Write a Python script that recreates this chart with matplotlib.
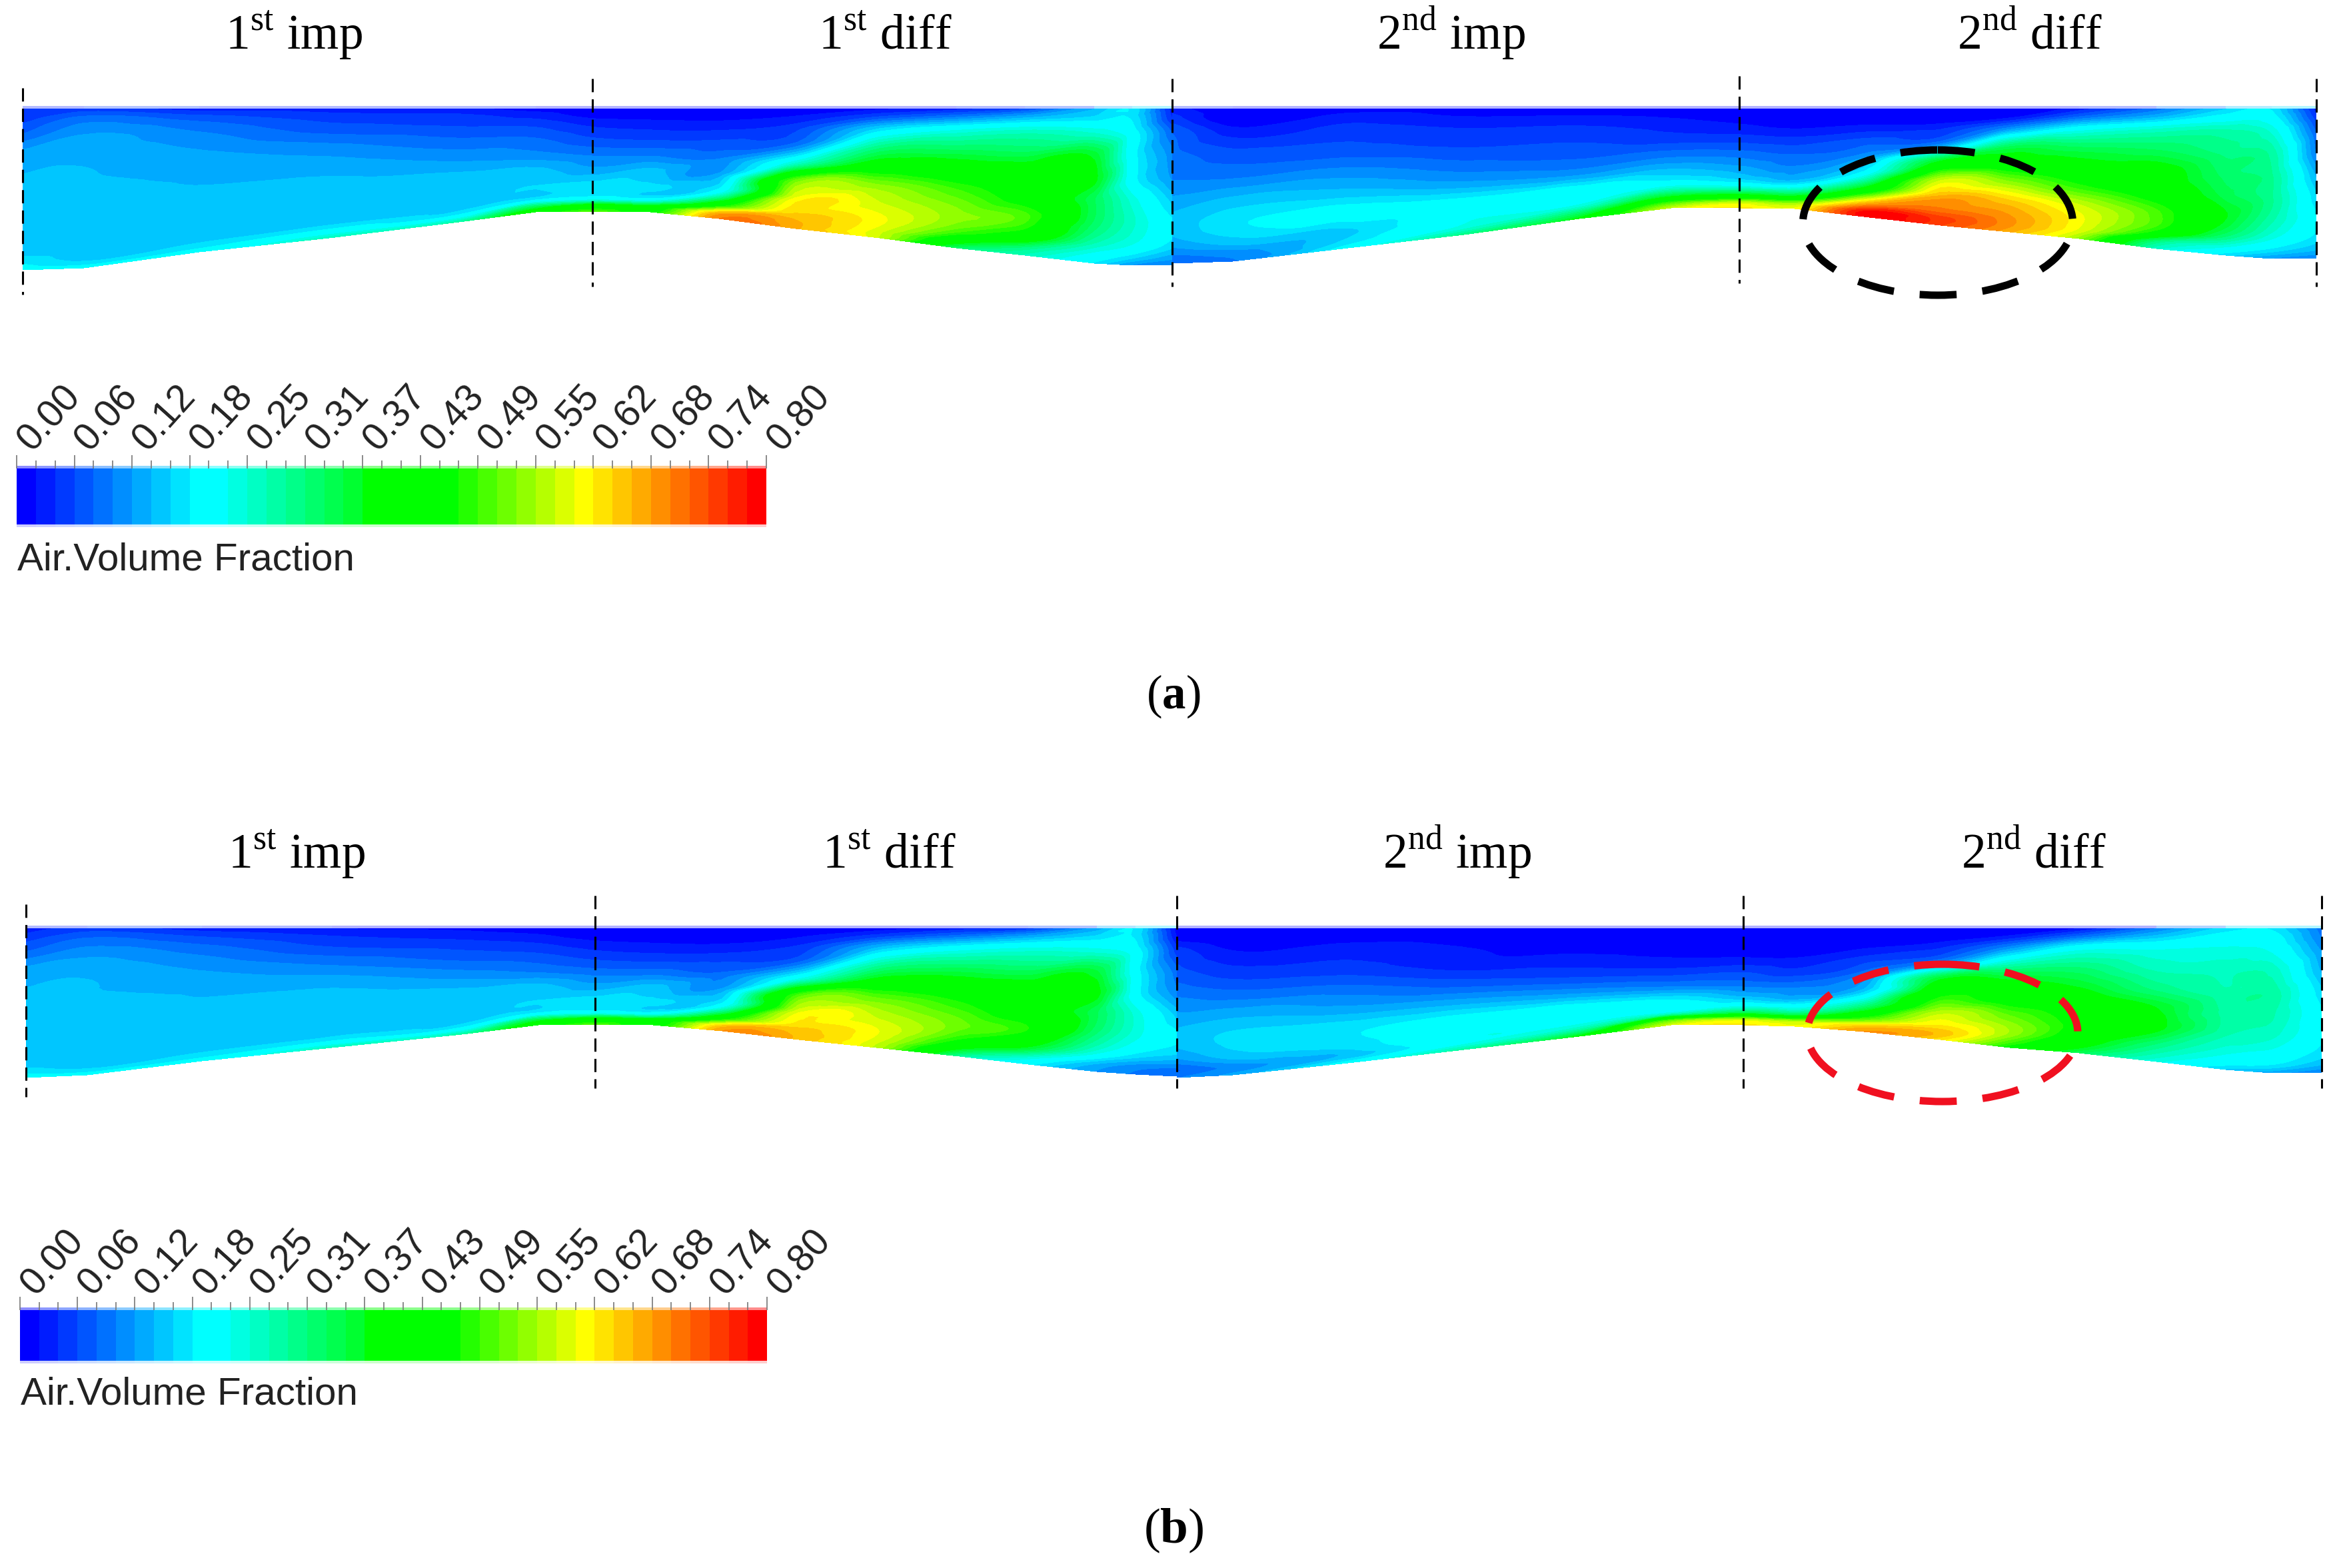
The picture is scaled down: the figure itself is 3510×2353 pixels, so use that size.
import numpy as np
import matplotlib
matplotlib.use('Agg')
import matplotlib.pyplot as plt
import matplotlib.tri as mtri
from matplotlib.colors import LinearSegmentedColormap, ListedColormap
from matplotlib.patches import Ellipse

plt.rcParams['font.family'] = ['Liberation Serif', 'DejaVu Sans']
plt.rcParams['mathtext.fontset'] = 'custom'
plt.rcParams['mathtext.rm'] = 'Liberation Serif'
plt.rcParams['mathtext.bf'] = 'Liberation Serif:bold'

# colour scale
tick_labels = ['0.00', '0.06', '0.12', '0.18', '0.25', '0.31', '0.37',
               '0.43', '0.49', '0.55', '0.62', '0.68', '0.74', '0.80']
scale_anchors = [(0.0, '#0000ff'), (9/38, '#00ffff'), (10/38, '#00ffff'), (17/38, '#00ff30'),
                 (18/38, '#00ff00'), (22/38, '#00ff00'), (29/38, '#ffff00'), (38/38, '#ff0000')]
n_bands = 39

# relative depth of the rows, 0 at top wall and 1 at bottom wall
depth_rows = [0, .06, .15, .3, .45, .6, .75, .88, .95, 1.0]

# panel a, first stage
a1_x = [34, 126, 299, 494, 689, 804, 889, 976, 1079, 1194, 1320, 1435, 1538, 1642, 1699, 1759]
a1_wall = [405, 402, 378, 357, 333, 318, 317, 318, 328, 343, 357, 372, 383, 395, 398, 398]
a1_field = [
    [.04, .05, .08, .135, .145, .145, .145, .15, .18, .2],
    [.05, .09, .12, .14, .145, .145, .145, .15, .16, .2],
    [.03, .07, .1, .125, .14, .145, .145, .15, .17, .2],
    [.03, .05, .07, .11, .135, .15, .15, .155, .2, .26],
    [.025, .045, .06, .09, .12, .15, .155, .155, .2, .28],
    [.01, .03, .055, .085, .11, .15, .165, .18, .33, .42],
    [.005, .012, .035, .065, .1, .13, .175, .21, .42, .5],
    [.005, .01, .03, .06, .1, .15, .17, .2, .4, .45],
    [.005, .01, .03, .065, .1, .13, .2, .45, .66, .7],
    [.01, .02, .05, .09, .24, .52, .6, .64, .66, .66],
    [.015, .06, .16, .3, .42, .54, .58, .6, .58, .57],
    [.03, .1, .22, .33, .42, .5, .54, .5, .4, .32],
    [.06, .14, .25, .33, .41, .44, .5, .42, .3, .26],
    [.14, .17, .24, .36, .38, .33, .32, .26, .21, .18],
    [.18, .18, .2, .2, .2, .24, .25, .22, .17, .12],
    [.03, .04, .08, .11, .12, .16, .19, .17, .13, .11],
]

# panel a, second stage
a2_x = [1759, 1850, 2023, 2197, 2370, 2508, 2610, 2693, 2797, 2912, 3016, 3120, 3236, 3340, 3409, 3476]
a2_wall = [395, 392, 372, 352, 328, 312, 312, 313, 325, 338, 348, 358, 373, 383, 388, 388]
a2_field = [
    [.03, .05, .08, .09, .1, .13, .15, .13, .1, .09],
    [.0, .0, .03, .07, .1, .15, .18, .15, .11, .1],
    [.01, .03, .05, .07, .11, .15, .2, .16, .17, .2],
    [.01, .02, .04, .06, .09, .13, .2, .22, .24, .3],
    [.01, .02, .04, .06, .08, .12, .21, .23, .32, .38],
    [.01, .015, .03, .05, .09, .14, .2, .36, .5, .57],
    [.0, .005, .02, .05, .09, .13, .19, .4, .58, .62],
    [.0, .0, .01, .045, .08, .11, .17, .38, .55, .6],
    [.0, .0, .02, .07, .12, .2, .4, .66, .78, .79],
    [.0, .0, .03, .1, .37, .56, .66, .71, .75, .74],
    [.0, .01, .1, .32, .42, .54, .64, .68, .68, .66],
    [.03, .08, .2, .33, .4, .48, .58, .6, .58, .54],
    [.09, .14, .25, .33, .4, .43, .5, .46, .3, .25],
    [.16, .2, .27, .3, .32, .34, .37, .3, .22, .17],
    [.18, .2, .24, .28, .29, .29, .27, .22, .17, .12],
    [.03, .05, .08, .1, .14, .17, .19, .17, .14, .1],
]

# panel b, first stage
b1_x = [39, 131, 303, 498, 693, 808, 893, 980, 1084, 1199, 1325, 1440, 1543, 1646, 1704, 1766]
b1_wall = [1617, 1613, 1592, 1572, 1552, 1538, 1537, 1538, 1547, 1560, 1573, 1585, 1597, 1608, 1612, 1615]
b1_field = [
    [.03, .05, .08, .135, .145, .145, .145, .15, .17, .2],
    [.05, .08, .11, .14, .145, .145, .145, .15, .16, .2],
    [.03, .06, .09, .12, .14, .145, .145, .15, .17, .2],
    [.02, .04, .06, .1, .135, .155, .15, .155, .19, .26],
    [.015, .03, .05, .08, .115, .15, .155, .155, .2, .28],
    [.005, .02, .04, .07, .1, .15, .165, .19, .35, .42],
    [.0, .005, .025, .055, .09, .13, .175, .21, .42, .5],
    [.0, .005, .02, .05, .09, .15, .17, .2, .4, .44],
    [.0, .005, .02, .055, .09, .13, .2, .45, .64, .68],
    [.005, .015, .04, .08, .22, .5, .59, .63, .65, .65],
    [.01, .05, .14, .28, .41, .52, .57, .59, .57, .55],
    [.03, .09, .2, .32, .41, .48, .52, .46, .36, .28],
    [.05, .13, .23, .32, .4, .42, .47, .36, .24, .19],
    [.13, .17, .23, .35, .38, .33, .3, .22, .14, .12],
    [.18, .18, .2, .2, .2, .24, .23, .17, .11, .1],
    [.01, .02, .05, .09, .11, .16, .19, .15, .1, .1],
]

# panel b, second stage
b2_x = [1766, 1850, 2023, 2197, 2370, 2508, 2616, 2693, 2797, 2912, 3016, 3120, 3236, 3340, 3409, 3484]
b2_wall = [1617, 1613, 1595, 1575, 1555, 1538, 1538, 1540, 1548, 1560, 1572, 1580, 1593, 1605, 1610, 1610]
b2_field = [
    [.01, .01, .05, .07, .1, .13, .15, .12, .08, .1],
    [.0, .0, .02, .05, .09, .14, .17, .15, .11, .13],
    [.01, .01, .03, .05, .09, .13, .18, .17, .15, .2],
    [.0, .01, .02, .03, .07, .13, .2, .22, .22, .28],
    [.0, .0, .01, .03, .06, .12, .21, .22, .29, .38],
    [.0, .0, .005, .02, .05, .1, .19, .24, .5, .58],
    [.0, .0, .005, .02, .06, .1, .17, .35, .58, .62],
    [.0, .0, .0, .02, .05, .1, .16, .33, .56, .6],
    [.0, .0, .01, .05, .1, .15, .3, .5, .64, .68],
    [.0, .005, .03, .1, .36, .46, .56, .62, .65, .62],
    [.005, .02, .1, .26, .38, .44, .52, .55, .5, .45],
    [.02, .08, .2, .3, .36, .42, .45, .42, .38, .33],
    [.1, .15, .22, .26, .3, .37, .38, .3, .26, .23],
    [.17, .2, .23, .26, .27, .28, .27, .23, .2, .16],
    [.18, .2, .22, .26, .28, .27, .25, .21, .18, .13],
    [.09, .1, .12, .14, .17, .19, .19, .17, .14, .1],
]

# page layout, in pixels of the reference
a_top = 163
b_top = 1393
a_dashes = [(34, 132, 442), (889, 118, 430), (1759, 118, 430), (2610, 114, 425), (3476, 118, 430)]
b_dashes = [(39, 1357, 1646), (893, 1344, 1633), (1766, 1344, 1633), (2616, 1344, 1633), (3484, 1344, 1633)]
headers = ['1$^{\\mathrm{st}}$ imp', '1$^{\\mathrm{st}}$ diff', '2$^{\\mathrm{nd}}$ imp', '2$^{\\mathrm{nd}}$ diff']
a_header_x = [338, 1228, 2066, 2937]
b_header_x = [342, 1234, 2075, 2943]

cmap = ListedColormap(LinearSegmentedColormap.from_list('cfd', scale_anchors, N=n_bands)(np.arange(n_bands)))
cmap = cmap.with_extremes(under='#0000ff', over='#ff0000')
levels = np.linspace(0, 0.8, n_bands + 1)

fig = plt.figure(figsize=(35.1, 23.53), dpi=100)
ax = fig.add_axes([0, 0, 1, 1])
ax.set_xlim(0, 3510)
ax.set_ylim(2353, 0)
ax.axis('off')


def draw_stage(xs, wall, field, top):
    field = np.array(field)
    s = np.array(depth_rows)
    xs = np.array(xs, dtype=float)
    wall = np.array(wall, dtype=float)
    X = np.repeat(xs[:, None], len(s), axis=1)
    Y = top + np.outer(wall - top, s)
    nc, nr = X.shape
    tris = []
    for i in range(nc - 1):
        for j in range(nr - 1):
            p = i * nr + j
            tris.append([p, p + nr, p + 1])
            tris.append([p + 1, p + nr, p + nr + 1])
    tri = mtri.Triangulation(X.ravel(), Y.ravel(), np.array(tris))
    interp = mtri.CubicTriInterpolator(tri, field.ravel(), kind='geom')
    fine_tri, fine_z = mtri.UniformTriRefiner(tri).refine_field(field.ravel(), triinterpolator=interp, subdiv=3)
    ax.tricontourf(fine_tri, fine_z, levels=levels, cmap=cmap, vmin=0, vmax=0.8, extend='both', zorder=1)
    # pale blurred edge above the top wall
    ax.pcolormesh(xs, [top - 4, top], field[:-1, 0][None, :], cmap=cmap, vmin=0, vmax=0.8,
                  alpha=0.3, shading='flat', zorder=1)


def draw_scale(x0, x1, y0, y1, label_x, label_y, tick_x_shift, tick_base):
    edges = np.linspace(x0, x1, n_bands + 1)
    vals = (levels[:-1] + levels[1:])[None, :] / 2
    ax.pcolormesh(edges, [y0, y1], vals, cmap=cmap, vmin=0, vmax=0.8, zorder=1)
    ax.pcolormesh(edges, [y0 - 4, y0], vals, cmap=cmap, vmin=0, vmax=0.8, alpha=0.45, zorder=1)
    ax.pcolormesh(edges, [y1, y1 + 4], vals, cmap=cmap, vmin=0, vmax=0.8, alpha=0.2, zorder=1)
    for i, xt in enumerate(edges):
        h = 20 if i % 3 == 0 else 12
        ax.vlines(xt, y0 - h, y0, color='#777777', lw=1.2, zorder=2)
    for lab, xt in zip(tick_labels, edges[::3]):
        ax.text(xt + tick_x_shift, tick_base, lab, rotation=48, ha='left', va='bottom',
                family=['Liberation Sans'], fontsize=41, color='#222222')
    ax.text(label_x, label_y, 'Air.Volume Fraction', family=['Liberation Sans'], fontsize=42,
            color='#222222', ha='left', va='baseline')


draw_stage(a1_x, a1_wall, a1_field, a_top)
draw_stage(a2_x, a2_wall, a2_field, a_top)
draw_stage(b1_x, b1_wall, b1_field, b_top)
draw_stage(b2_x, b2_wall, b2_field, b_top)

for x, y0, y1 in a_dashes + b_dashes:
    ax.plot([x, x], [y0, y1], color='black', lw=2.2, linestyle=(0, (6.5, 3.5)), zorder=3)

for name, x in zip(headers, a_header_x):
    ax.text(x, 74, name, fontsize=53, ha='left', va='baseline', color='black')
for name, x in zip(headers, b_header_x):
    ax.text(x, 1303, name, fontsize=53, ha='left', va='baseline', color='black')

draw_scale(25, 1150, 703, 787, 26, 855, -8, 687)
draw_scale(30, 1151, 1966, 2042, 31, 2108, -8, 1954)

ax.add_patch(Ellipse((2908, 334), 405, 218, fill=False, edgecolor='black', lw=8,
                     linestyle=(0, (5, 3.5)), zorder=4))
ax.add_patch(Ellipse((2915, 1550), 406, 206, fill=False, edgecolor='#f01020', lw=8,
                     linestyle=(0, (5, 3.5)), zorder=4))

ax.text(1761, 1063, '($\\mathbf{a}$)', fontsize=51, ha='center', va='baseline', color='black')
ax.text(1761, 2315, '($\\mathbf{b}$)', fontsize=54, ha='center', va='baseline', color='black')

fig.savefig('out.png', dpi=100)
